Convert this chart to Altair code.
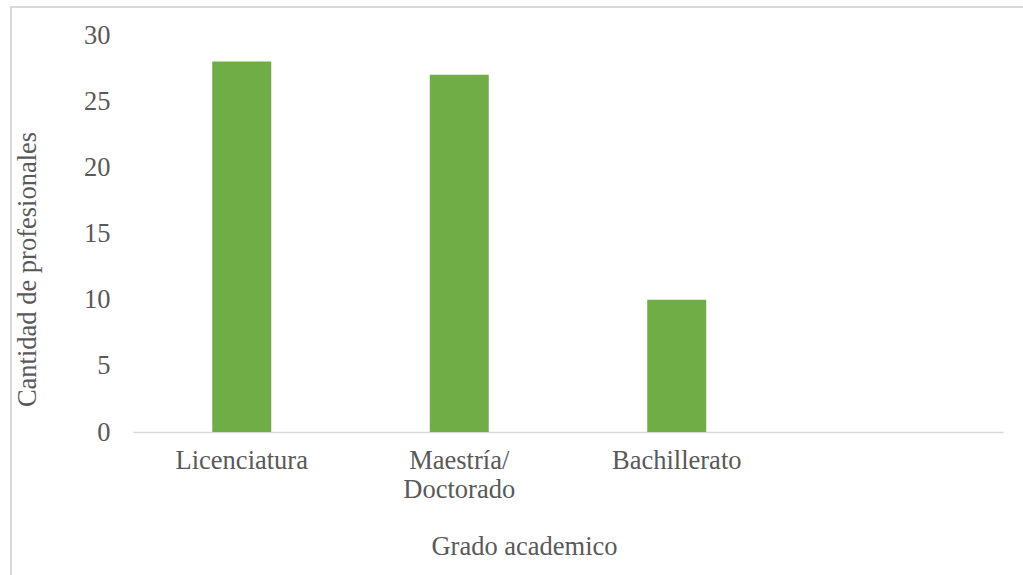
import altair as alt
import pandas as pd

categories = ["Licenciatura", "Maestría/\nDoctorado", "Bachillerato"]
values = [28, 27, 10]
domain_x = categories + [""]

df = pd.DataFrame({"grado": categories, "cantidad": values})

FONT = "Liberation Serif"
TXT = "#595959"
FS = 26.5

bars = alt.Chart(df).mark_bar(size=59, color="#70AD47").encode(
    x=alt.X(
        "grado:N",
        sort=domain_x,
        scale=alt.Scale(domain=domain_x, paddingInner=0, paddingOuter=0),
        axis=alt.Axis(
            title="Grado academico",
            labelAngle=0,
            labelExpr="split(datum.label, '\\n')",
            labelLineHeight=29,
            labelFontSize=FS,
            labelFont=FONT,
            labelColor=TXT,
            labelPadding=15,
            ticks=False,
            domainColor="#d9d9d9",
            domainWidth=1.5,
            titleFont=FONT,
            titleFontSize=FS,
            titleFontWeight="normal",
            titleColor=TXT,
            titleX=391,
            titleY=114,
            titleBaseline="middle",
            titleAlign="center",
        ),
    ),
    y=alt.Y(
        "cantidad:Q",
        scale=alt.Scale(domain=[0, 30], nice=False),
        axis=alt.Axis(
            title="Cantidad de profesionales",
            values=[0, 5, 10, 15, 20, 25, 30],
            labelFontSize=FS,
            labelFont=FONT,
            labelColor=TXT,
            labelPadding=23,
            ticks=False,
            domain=False,
            grid=False,
            titleFont=FONT,
            titleFontSize=FS,
            titleFontWeight="normal",
            titleColor=TXT,
            titleAngle=-90,
            titleX=-106,
            titleY=234,
            titleBaseline="middle",
            titleAlign="center",
        ),
    ),
)

border = alt.Chart(alt.Data(values=[{"a": 1}])).mark_rect(
    fill="transparent", stroke="#d9d9d9", strokeWidth=2
).encode(
    x=alt.value(-122), x2=alt.value(1200), y=alt.value(-28), y2=alt.value(1000)
)

chart = alt.layer(border, bars).properties(
    width=870,
    height=397,
    autosize=alt.AutoSizeParams(type="none"),
    padding={"left": 133, "top": 35, "right": 20, "bottom": 143},
    background="white",
).configure_view(stroke=None)

chart.save("out.html", embed_options={"renderer": "svg", "actions": False})
